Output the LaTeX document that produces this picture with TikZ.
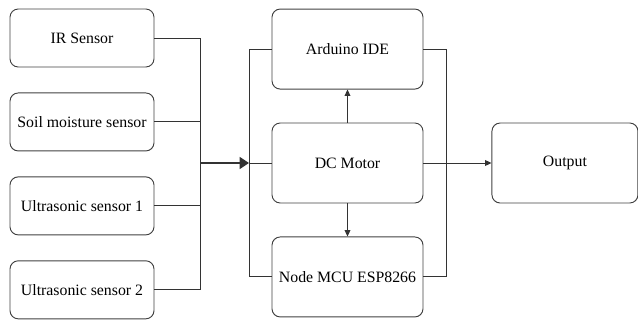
\documentclass[tikz,border=0pt]{standalone}
\usepackage{fontspec}
\setmainfont{Liberation Serif}
\usetikzlibrary{arrows.meta,positioning}

\begin{document}
\begin{tikzpicture}[node distance=0.75cm and 2.04cm,line width=0.8pt,draw=black!80]
    \tikzset{q/.style={draw=black!75,rounded corners=7pt,minimum width=4.32cm,minimum height=1.74cm,align=center,font=\fontsize{13.5}{16}\selectfont}}
    \tikzset{m/.style={q,minimum width=4.53cm,minimum height=2.4cm}}
    \tikzset{tip/.style={-{Triangle[length=5.5pt,width=5pt]}}}
    \useasboundingbox (0,0) rectangle (19.14,-9.6);
    \node[q] (ir) at (2.46,-1.14) {IR Sensor};
    \node[q,below=of ir] (soil) {Soil moisture sensor};
    \node[q,below=of soil] (us1) {Ultrasonic sensor 1};
    \node[q,below=of us1] (us2) {Ultrasonic sensor 2};
    \node[m] (dc) at (10.425,-4.89) {DC Motor};
    \node[m,above=0.99cm of dc] (ard) {Arduino IDE};
    \node[m,below=0.99cm of dc] (mcu) {Node MCU ESP8266};
    \node[m,right=of dc,minimum width=4.38cm] (out) {Output};
    \coordinate (busl) at (6.0,0);
    \coordinate (busm) at (7.47,0);
    \coordinate (busr) at (13.38,0);
    \draw (ir.east) -| (busl |- us2.east) -- (us2.east);
    \draw (soil.east) -- (soil.east -| busl);
    \draw (us1.east) -- (us1.east -| busl);
    \draw[line width=2pt,-{Triangle[length=8pt,width=10pt]}] (busl |- dc.west) -- (busm |- dc.west);
    \draw (ard.west) -| (busm |- mcu.west) -- (mcu.west);
    \draw (busm |- dc.west) -- (dc.west);
    \draw (ard.east) -| (busr |- mcu.east) -- (mcu.east);
    \draw[tip] (dc.east) -- (out.west);
    \draw[tip] (dc.north) -- (ard.south);
    \draw[tip] (dc.south) -- (mcu.north);
  \end{tikzpicture}
\end{document}
